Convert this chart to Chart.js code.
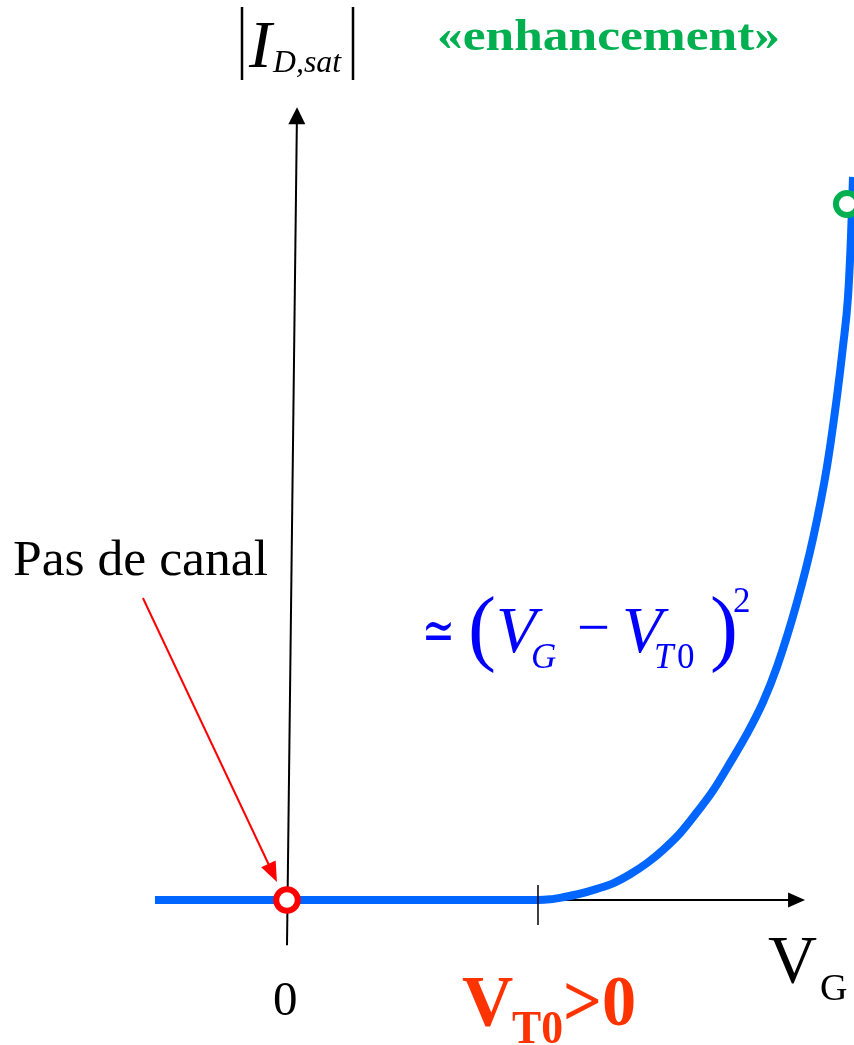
<!DOCTYPE html>
<html>
<head>
<meta charset="utf-8">
<script src="https://cdn.jsdelivr.net/npm/chart.js@4.4.1/dist/chart.umd.min.js"></script>
<style>
  html, body { margin: 0; padding: 0; background: #ffffff; }
  #wrap { width: 854px; height: 1045px; position: relative; }
  canvas { display: block; }
</style>
</head>
<body>
<div id="wrap"><canvas id="c" width="854" height="1045"></canvas></div>
<script>
// ---- data (V_G in units of V_T0, |I_D,sat| in units of the marked saturation point) ----
const curveVG = [-0.526, 1.0, 1.048, 1.100, 1.167, 1.235, 1.299, 1.367, 1.434, 1.498, 1.566, 1.633, 1.697, 1.765, 1.833, 1.896, 1.952, 2.032, 2.096, 2.151, 2.191, 2.215, 2.235, 2.247, 2.255];
const curveID = [0, 0, 0.001, 0.004, 0.009, 0.016, 0.024, 0.037, 0.053, 0.072, 0.096, 0.126, 0.157, 0.197, 0.239, 0.284, 0.335, 0.428, 0.520, 0.622, 0.723, 0.795, 0.866, 0.953, 1.039];
const originMarker = [0, 0];            // "Pas de canal"
const enhancementMarker = [2.231, 1.0]; // top of the curve
const thresholdVT0 = 1.0;               // V_T0 > 0 tick
const xAxisEnd = 2.064;                 // V_G arrow tip
const yAxisBottom = [0, -0.065];
const yAxisTop = [0.040, 1.139];
const noteArrowFrom = [-0.574, 0.434];
const noteArrowTo = [-0.040, 0.026];
const xRange = [-1.1434, 2.2590];
const yRange = [-0.2083, 1.2931];

const BLUE = '#0066FF';

function arrowHead(ctx, x1, y1, x2, y2, len, half, color) {
  const a = Math.atan2(y2 - y1, x2 - x1);
  ctx.save();
  ctx.fillStyle = color;
  ctx.beginPath();
  ctx.moveTo(x2, y2);
  ctx.lineTo(x2 - len * Math.cos(a) + half * Math.sin(a), y2 - len * Math.sin(a) - half * Math.cos(a));
  ctx.lineTo(x2 - len * Math.cos(a) - half * Math.sin(a), y2 - len * Math.sin(a) + half * Math.cos(a));
  ctx.closePath();
  ctx.fill();
  ctx.restore();
}

function txt(ctx, s, x, y, font, color, w) {
  ctx.save();
  ctx.font = font;
  ctx.fillStyle = color;
  ctx.textAlign = 'left';
  ctx.textBaseline = 'alphabetic';
  if (w) {
    const m = ctx.measureText(s).width;
    ctx.translate(x, y);
    ctx.scale(w / m, 1);
    ctx.fillText(s, 0, 0);
  } else {
    ctx.fillText(s, x, y);
  }
  ctx.restore();
}

const axesPlugin = {
  id: 'axesPlugin',
  beforeDatasetsDraw(chart) {
    const ctx = chart.ctx;
    const xs = chart.scales.x, ys = chart.scales.y;
    const X = v => xs.getPixelForValue(v), Y = v => ys.getPixelForValue(v);
    ctx.save();
    ctx.strokeStyle = '#000';
    ctx.lineWidth = 2;
    // x axis
    const x0 = X(curveVG[0]), xe = X(xAxisEnd), y0 = Y(0);
    ctx.beginPath(); ctx.moveTo(x0, y0); ctx.lineTo(xe - 14, y0); ctx.stroke();
    arrowHead(ctx, x0, y0, xe, y0, 17, 7.5, '#000');
    // y axis (slightly tilted)
    const bx = X(yAxisBottom[0]), by = Y(yAxisBottom[1]);
    const tx = X(yAxisTop[0]), ty = Y(yAxisTop[1]);
    const a = Math.atan2(ty - by, tx - bx);
    ctx.beginPath(); ctx.moveTo(bx, by); ctx.lineTo(tx - 14 * Math.cos(a), ty - 14 * Math.sin(a)); ctx.stroke();
    arrowHead(ctx, bx, by, tx, ty, 17, 8.5, '#000');
    ctx.restore();
  },
  afterDatasetsDraw(chart) {
    const ctx = chart.ctx;
    const xs = chart.scales.x, ys = chart.scales.y;
    const X = v => xs.getPixelForValue(v), Y = v => ys.getPixelForValue(v);
    ctx.save();
    // V_T0 tick
    ctx.strokeStyle = '#000';
    ctx.lineWidth = 1.5;
    ctx.beginPath(); ctx.moveTo(X(thresholdVT0), Y(0) - 15); ctx.lineTo(X(thresholdVT0), Y(0) + 25); ctx.stroke();
    // red note arrow
    const fx = X(noteArrowFrom[0]), fy = Y(noteArrowFrom[1]);
    const tx = X(noteArrowTo[0]), ty = Y(noteArrowTo[1]);
    const a = Math.atan2(ty - fy, tx - fx);
    ctx.strokeStyle = '#FF0000';
    ctx.lineWidth = 2;
    ctx.beginPath(); ctx.moveTo(fx, fy); ctx.lineTo(tx - 16 * Math.cos(a), ty - 16 * Math.sin(a)); ctx.stroke();
    arrowHead(ctx, fx, fy, tx, ty, 20, 8, '#FF0000');

    // |I_D,sat|
    ctx.strokeStyle = '#000';
    ctx.lineWidth = 2.5;
    ctx.beginPath(); ctx.moveTo(242, 7); ctx.lineTo(242, 80); ctx.moveTo(353, 7); ctx.lineTo(353, 80); ctx.stroke();
    txt(ctx, 'I', 249, 67, 'italic 68px "Liberation Serif"', '#000');
    txt(ctx, 'D,sat', 273, 72, 'italic 32px "Liberation Serif"', '#000', 68);

    // «enhancement»
    txt(ctx, '«enhancement»', 437, 50, 'bold 45px "Liberation Serif"', '#00B050', 343);

    // Pas de canal
    txt(ctx, 'Pas de canal', 13, 575, '50px "Liberation Serif"', '#000', 255);

    // formula ≃(V_G − V_T0)^2
    const FB = '#0000FF';
    txt(ctx, '≃', 422, 650, '58px "DejaVu Serif"', FB, 33);
    txt(ctx, '(', 468, 655, '84px "Liberation Serif"', FB);
    txt(ctx, 'V', 496, 652, 'italic 66px "Liberation Serif"', FB);
    txt(ctx, 'G', 531, 668, 'italic 35px "Liberation Serif"', FB);
    txt(ctx, '−', 577, 647, '60px "Liberation Serif"', FB, 33);
    txt(ctx, 'V', 622, 652, 'italic 66px "Liberation Serif"', FB);
    txt(ctx, 'T', 654, 668, 'italic 35px "Liberation Serif"', FB);
    txt(ctx, '0', 677, 668, '35px "Liberation Serif"', FB);
    txt(ctx, ')', 710, 655, '84px "Liberation Serif"', FB);
    txt(ctx, '2', 733, 612, '35px "Liberation Serif"', FB);

    // tick labels
    txt(ctx, '0', 273, 1015, '49px "Liberation Serif"', '#000');
    const RC = '#FF3300';
    txt(ctx, 'V', 462, 1025, 'bold 71px "Liberation Serif"', RC);
    txt(ctx, 'T0', 512, 1043, 'bold 47px "Liberation Serif"', RC, 51);
    txt(ctx, '>0', 563, 1025, 'bold 71px "Liberation Serif"', RC, 73);
    txt(ctx, 'V', 768, 982, '68px "Liberation Serif"', '#000');
    txt(ctx, 'G', 820, 1000, '38px "Liberation Serif"', '#000');
    ctx.restore();
  }
};

const curveData = curveVG.map((v, i) => ({ x: v, y: curveID[i] }));

new Chart(document.getElementById('c'), {
  type: 'line',
  data: {
    datasets: [
      {
        label: 'Pas de canal',
        data: [{ x: originMarker[0], y: originMarker[1] }],
        showLine: false,
        pointRadius: 10.8, pointHoverRadius: 10.8,
        pointBorderWidth: 6, pointBorderColor: '#FF0000', pointBackgroundColor: '#FFFFFF',
        borderColor: '#FF0000', backgroundColor: '#FFFFFF',
        order: 0, clip: false
      },
      {
        label: 'enhancement',
        data: [{ x: enhancementMarker[0], y: enhancementMarker[1] }],
        showLine: false,
        pointRadius: 11, pointHoverRadius: 11,
        pointBorderWidth: 6, pointBorderColor: '#00B050', pointBackgroundColor: '#FFFFFF',
        borderColor: '#00B050', backgroundColor: '#FFFFFF',
        order: 0, clip: false
      },
      {
        label: '|I_D,sat|',
        data: curveData,
        borderColor: BLUE, borderWidth: 8, fill: false,
        pointRadius: 0, pointHoverRadius: 0,
        cubicInterpolationMode: 'monotone', tension: 0.4,
        borderCapStyle: 'butt', borderJoinStyle: 'round',
        order: 1, clip: false
      }
    ]
  },
  options: {
    responsive: false,
    animation: false,
    events: [],
    layout: { padding: 0, autoPadding: false },
    plugins: { legend: { display: false }, tooltip: { enabled: false }, title: { display: false } },
    scales: {
      x: { type: 'linear', min: xRange[0], max: xRange[1], display: false },
      y: { type: 'linear', min: yRange[0], max: yRange[1], display: false }
    }
  },
  plugins: [axesPlugin]
});
</script>
</body>
</html>
